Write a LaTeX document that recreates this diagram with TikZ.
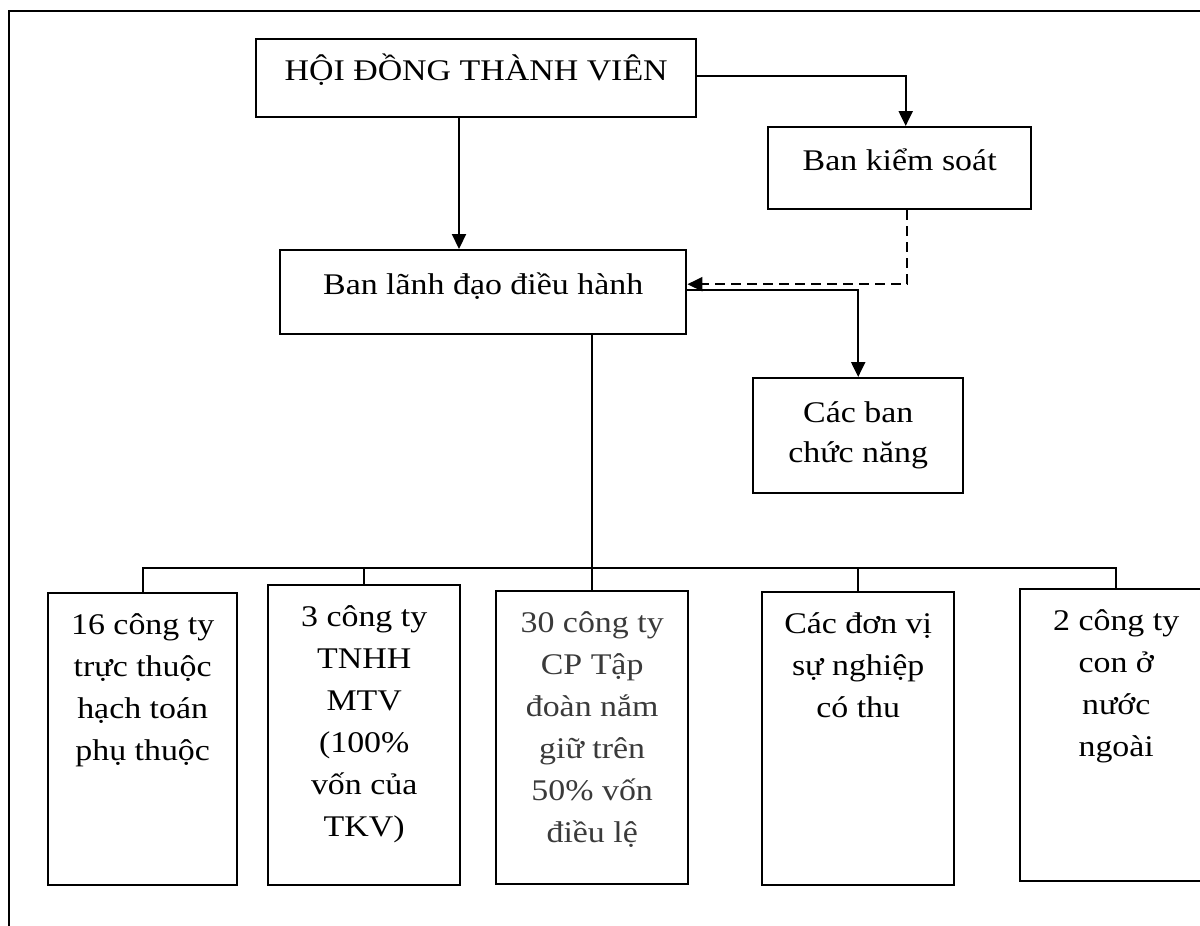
\documentclass[tikz,border=0pt]{standalone}
\usepackage{fontspec}
\setmainfont{Liberation Serif}[FakeStretch=1.13]
\usetikzlibrary{arrows.meta}
\definecolor{softink}{HTML}{3A3A3A}
% fixed-size cell whose lines hang from the top edge
\newcommand\orgcell[3]{\parbox[c][#2][t]{#1}{\centering\vspace*{12pt}\strut #3}}
\begin{document}
\begin{tikzpicture}[x=1pt,y=-1pt,
  font=\fontsize{30}{42}\selectfont,
  box/.style={draw, rectangle, line width=2.4pt, inner sep=0pt},
  oneline/.style={box, anchor=north west, text height=12pt, text depth=8pt},
  link/.style={line width=2.2pt},
  flow/.style={line width=2.2pt, -{Triangle[length=15pt,width=14pt]}},
  watch/.style={flow, dash pattern=on 10pt off 6pt}]
\useasboundingbox (0,0) rectangle (1200,926);
\clip (0,0) rectangle (1200,926);

% frame around the chart
\draw[line width=2pt] (9,940) -- (9,11) -- (1220,11);

% top level
\node[oneline, minimum width=440pt, minimum height=78pt] (hdtv) at (255,38) {HỘI ĐỒNG THÀNH VIÊN};
\node[oneline, minimum width=263pt, minimum height=82pt] (bks) at (767,126) {Ban kiểm soát};
\node[oneline, minimum width=406pt, minimum height=84pt] (lead) at (279,249) {Ban lãnh đạo điều hành};
\node[box, anchor=north west, minimum width=210pt, minimum height=115pt, align=center,
      font=\fontsize{30}{40}\selectfont] (cbn) at (752,377) {Các ban\\chức năng};

% member units
\node[box, anchor=north west] (u1) at (47,592)
  {\orgcell{189pt}{292pt}{16 công ty\\trực thuộc\\hạch toán\\phụ thuộc}};
\node[box, anchor=north west] (u2) at (267,584)
  {\orgcell{192pt}{300pt}{3 công ty\\TNHH\\MTV\\(100\%\\vốn của\\TKV)}};
\node[box, anchor=north west, text=softink] (u3) at (495,590)
  {\orgcell{192pt}{293pt}{30 công ty\\CP Tập\\đoàn nắm\\giữ trên\\50\% vốn\\điều lệ}};
\node[box, anchor=north west] (u4) at (761,591)
  {\orgcell{192pt}{293pt}{Các đơn vị\\sự nghiệp\\có thu}};
\node[box, anchor=north west] (u5) at (1019,588)
  {\orgcell{192pt}{292pt}{2 công ty\\con ở\\nước\\ngoài}};

% connectors
\coordinate (hx) at (459,0);
\coordinate (bus) at (0,568);
\draw[flow] (hx |- hdtv.south) -- (hx |- lead.north);
\draw[flow] ([yshift=2pt]hdtv.east) -| ([xshift=6pt]bks.north);
\draw[watch] ([xshift=7pt]bks.south) |- ([yshift=8pt]lead.east);
\draw[flow] ([yshift=2pt]lead.east) -| (cbn.north);
\draw[link] (u3.north |- lead.south) -- (u3.north |- bus);
\draw[link, line cap=rect] (u1.north |- bus) -- (u5.north |- bus);
\foreach \u in {u1,u2,u3,u4,u5}
  \draw[link] (\u.north |- bus) -- (\u.north);
\end{tikzpicture}
\end{document}
